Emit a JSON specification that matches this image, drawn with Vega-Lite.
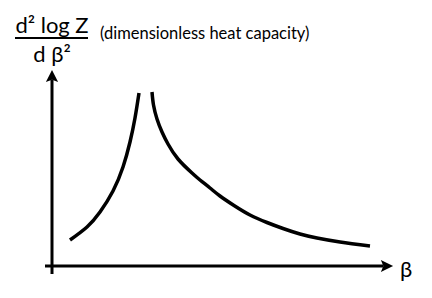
{
  "$schema": "https://vega.github.io/schema/vega-lite/v6.json",
  "width": 341,
  "height": 196,
  "autosize": {"type": "none"},
  "padding": {"left": 52, "top": 70, "right": 39, "bottom": 32},
  "background": "white",
  "config": {"view": {"stroke": null}},
  "datasets": {
    "curves": [
      {"series": "below", "beta": 18, "c": 26},
      {"series": "below", "beta": 35, "c": 39},
      {"series": "below", "beta": 48, "c": 54},
      {"series": "below", "beta": 61, "c": 75},
      {"series": "below", "beta": 71, "c": 99},
      {"series": "below", "beta": 78, "c": 124},
      {"series": "below", "beta": 83, "c": 148},
      {"series": "below", "beta": 87, "c": 173},
      {"series": "above", "beta": 100, "c": 174},
      {"series": "above", "beta": 101.5, "c": 161},
      {"series": "above", "beta": 105, "c": 147},
      {"series": "above", "beta": 110, "c": 134},
      {"series": "above", "beta": 116, "c": 122},
      {"series": "above", "beta": 126, "c": 107},
      {"series": "above", "beta": 140, "c": 93},
      {"series": "above", "beta": 148, "c": 86},
      {"series": "above", "beta": 158, "c": 78},
      {"series": "above", "beta": 168, "c": 70},
      {"series": "above", "beta": 182, "c": 60.5},
      {"series": "above", "beta": 198, "c": 51},
      {"series": "above", "beta": 215, "c": 43.5},
      {"series": "above", "beta": 231, "c": 37.5},
      {"series": "above", "beta": 248, "c": 32},
      {"series": "above", "beta": 265, "c": 28},
      {"series": "above", "beta": 288, "c": 24},
      {"series": "above", "beta": 318, "c": 20}
    ],
    "axes": [
      {"axis": "y", "x1": 0, "x2": 0, "y1": -8, "y2": 186},
      {"axis": "x", "x1": -7, "x2": 331, "y1": 0, "y2": 0},
      {"axis": "frac", "x1": -37, "x2": 36, "y1": 228, "y2": 228}
    ],
    "arrows": [
      {"dir": "up", "x": 0, "y": 190},
      {"dir": "right", "x": 335, "y": 0}
    ],
    "labels": [
      {"kind": "num", "label": "d² log Z", "x": 0, "y": 233},
      {"kind": "den", "label": "d β²", "x": 0, "y": 204},
      {"kind": "note", "label": "(dimensionless heat capacity)", "x": 48, "y": 227},
      {"kind": "beta", "label": "β", "x": 348, "y": -4}
    ]
  },
  "layer": [
    {
      "data": {"name": "curves"},
      "mark": {"type": "line", "color": "black", "strokeWidth": 3.5, "interpolate": "natural", "clip": false, "strokeCap": "butt"},
      "encoding": {
        "x": {"field": "beta", "type": "quantitative", "scale": {"domain": [0, 341], "nice": false, "zero": false}, "axis": null},
        "y": {"field": "c", "type": "quantitative", "scale": {"domain": [0, 196], "nice": false, "zero": false}, "axis": null},
        "detail": {"field": "series"}
      }
    },
    {
      "data": {"name": "axes"},
      "mark": {"type": "rule", "color": "black", "clip": false},
      "encoding": {
        "x": {"field": "x1", "type": "quantitative"},
        "x2": {"field": "x2"},
        "y": {"field": "y1", "type": "quantitative"},
        "y2": {"field": "y2"},
        "strokeWidth": {"condition": {"test": "datum.axis === 'frac'", "value": 2}, "value": 3}
      }
    },
    {
      "data": {"name": "arrows"},
      "transform": [{"filter": "datum.dir === 'up'"}],
      "mark": {"type": "point", "shape": "M0,-1L-1,1L0,0.6L1,1Z", "size": 150, "filled": true, "color": "black", "opacity": 1, "clip": false},
      "encoding": {
        "x": {"field": "x", "type": "quantitative"},
        "y": {"field": "y", "type": "quantitative"}
      }
    },
    {
      "data": {"name": "arrows"},
      "transform": [{"filter": "datum.dir === 'right'"}],
      "mark": {"type": "point", "shape": "M1,0L-1,-1L-0.6,0L-1,1Z", "size": 150, "filled": true, "color": "black", "opacity": 1, "clip": false},
      "encoding": {
        "x": {"field": "x", "type": "quantitative"},
        "y": {"field": "y", "type": "quantitative"}
      }
    },
    {
      "data": {"name": "labels"},
      "transform": [{"filter": "datum.kind === 'num' || datum.kind === 'den'"}],
      "mark": {"type": "text", "font": "Lato", "fontSize": 22, "align": "center", "baseline": "alphabetic", "color": "black", "clip": false},
      "encoding": {
        "x": {"field": "x", "type": "quantitative"},
        "y": {"field": "y", "type": "quantitative"},
        "text": {"field": "label"}
      }
    },
    {
      "data": {"name": "labels"},
      "transform": [{"filter": "datum.kind === 'note'"}],
      "mark": {"type": "text", "font": "Lato", "fontSize": 16.5, "align": "left", "baseline": "alphabetic", "color": "black", "clip": false},
      "encoding": {
        "x": {"field": "x", "type": "quantitative"},
        "y": {"field": "y", "type": "quantitative"},
        "text": {"field": "label"}
      }
    },
    {
      "data": {"name": "labels"},
      "transform": [{"filter": "datum.kind === 'beta'"}],
      "mark": {"type": "text", "font": "Lato", "fontSize": 22, "align": "left", "baseline": "middle", "color": "black", "clip": false},
      "encoding": {
        "x": {"field": "x", "type": "quantitative"},
        "y": {"field": "y", "type": "quantitative"},
        "text": {"field": "label"}
      }
    }
  ]
}
